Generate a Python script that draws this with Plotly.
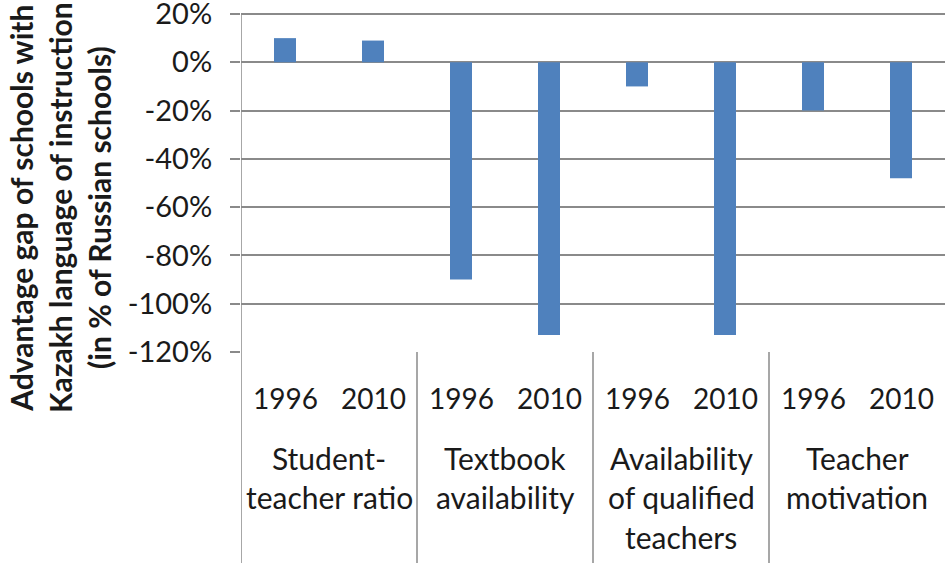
import plotly.graph_objects as go

groups = ["Student-teacher ratio", "Textbook availability",
          "Availability of qualified teachers", "Teacher motivation"]
group_lines = [["Student-", "teacher ratio"], ["Textbook", "availability"],
               ["Availability", "of qualified", "teachers"], ["Teacher", "motivation"]]
years = ["1996", "2010"]
values = [10, 9, -90, -113, -10, -113, -20, -48]
y_ticks = [20, 0, -20, -40, -60, -80, -100, -120]

categories = [f"{g}|{y}" for g in groups for y in years]

FONT = "Lato"
TXT = "#1a1a1a"
GRID = "#8a8a8a"
W, H = 945, 563
Y_TOP_PX, Y_BOT_PX = 14, 352      # pixel rows of 20% and -120%
T = 12
L, R, B = 241, 0, H - Y_BOT_PX
ph = H - T - B
pw = W - L - R
ppu = (Y_BOT_PX - Y_TOP_PX) / 140.0
y_max = 20 + (Y_TOP_PX - T) / ppu

fig = go.Figure(go.Bar(x=categories, y=values, width=0.25,
                       marker=dict(color="#4F81BD", line=dict(width=0))))

fig.update_layout(
    width=W, height=H, margin=dict(l=L, r=R, t=T, b=B, autoexpand=False),
    plot_bgcolor="white", paper_bgcolor="white", showlegend=False,
    font=dict(family=FONT, size=28, color=TXT),
)
fig.update_xaxes(type="category", range=[-0.5, len(categories) - 0.5],
                 showticklabels=False, showgrid=False, zeroline=False,
                 showline=False, ticks="")
fig.update_yaxes(range=[-120, y_max], tickvals=y_ticks,
                 ticktext=[f"{v}%" for v in y_ticks],
                 showgrid=True, gridcolor=GRID, gridwidth=1.5,
                 zeroline=True, zerolinecolor=GRID, zerolinewidth=1.5,
                 showline=False,
                 ticks="outside", ticklen=10, tickcolor=GRID, tickwidth=1.5,
                 ticklabelstandoff=12, ticklabeloverflow="allow",
                 tickfont=dict(family=FONT, size=29, color=TXT))

def py(px):
    return (H - B - px) / ph

def px_x(px):
    return (px - L) / pw

bottom = py(H)
# y axis line, continued down through the category area
fig.add_shape(type="line", xref="x", yref="paper", x0=-0.5, x1=-0.5,
              y0=py(Y_TOP_PX), y1=bottom, line=dict(color=GRID, width=1.5))
for xv in [1.5, 3.5, 5.5]:
    fig.add_shape(type="line", xref="x", yref="paper", x0=xv, x1=xv,
                  y0=0, y1=bottom, line=dict(color=GRID, width=1.5))

ann = []
for i, c in enumerate(categories):
    ann.append(dict(x=c, y=py(398), xref="x", yref="paper", text=c.split("|")[1],
                    showarrow=False, yanchor="middle",
                    font=dict(family=FONT, size=28, color=TXT)))
line_y = [458, 497, 537]
for gi, lines in enumerate(group_lines):
    for li, t in enumerate(lines):
        ann.append(dict(x=2 * gi + 0.5, y=py(line_y[li]), xref="x", yref="paper",
                        text=t, showarrow=False, yanchor="middle",
                        font=dict(family=FONT, size=30, color=TXT)))
ann.append(dict(x=px_x(60), y=py(208), xref="paper", yref="paper",
                text="<b>Advantage gap of schools with<br>Kazakh language of instruction<br>(in % of Russian schools)</b>",
                textangle=-90, showarrow=False, xanchor="center", yanchor="middle",
                font=dict(family=FONT, size=30, color=TXT)))
fig.update_layout(annotations=ann)

fig.write_html("out.html", config={"displayModeBar": False},
               post_script="document.body.style.margin='0';document.body.style.padding='0';")
